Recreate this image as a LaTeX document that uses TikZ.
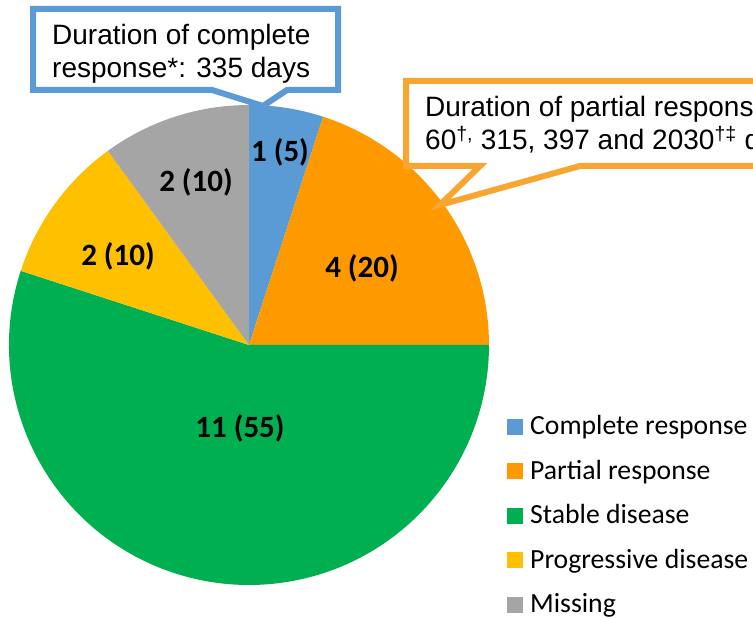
\documentclass[tikz,border=0pt]{standalone}
\usepackage{fontspec}
\setmainfont{Liberation Sans}
\newfontfamily\calibri{Carlito}
\definecolor{cblue}{HTML}{5B9BD5}
\definecolor{corange}{HTML}{FF9900}
\definecolor{cgreen}{HTML}{00B050}
\definecolor{cyellow}{HTML}{FFC000}
\definecolor{cgray}{HTML}{A5A5A5}
\definecolor{boxorange}{HTML}{F8A532}
\tikzset{
  slicelabel/.style={font=\calibri\bfseries\fontsize{31}{37}\selectfont, inner sep=0pt, anchor=center},
  legtext/.style={font=\calibri\fontsize{27.7}{33}\selectfont, inner sep=0pt, anchor=base west},
  legsq/.style={minimum size=16pt, inner sep=0pt, draw=none},
  calltext/.style={font=\fontsize{28}{33.6}\selectfont, inner sep=0pt, anchor=base west},
  callbox/.style={line width=6pt, line join=miter, fill=white}
}
\begin{document}
\begin{tikzpicture}[x=1pt,y=1pt]
\useasboundingbox (0,0) rectangle (753,618);
\clip (0,0) rectangle (753,618);
\fill[white] (0,0) rectangle (753,618);
\coordinate (c) at (249,273);
% pie
\fill[cblue]   (c) -- ++(72:240)  arc[start angle=72,  end angle=90,  radius=240] -- cycle;
\fill[corange] (c) -- ++(0:240)   arc[start angle=0,   end angle=72,  radius=240] -- cycle;
\fill[cgreen]  (c) -- ++(162:240) arc[start angle=162, end angle=360, radius=240] -- cycle;
\fill[cyellow] (c) -- ++(126:240) arc[start angle=126, end angle=162, radius=240] -- cycle;
\fill[cgray]   (c) -- ++(90:240)  arc[start angle=90,  end angle=126, radius=240] -- cycle;
% slice labels
\node[slicelabel] (lcr) at (280,466) {1 (5)};
\node[slicelabel] (lpr) at (362,350) {4 (20)};
\node[slicelabel] (lsd) at (240,190) {11 (55)};
\node[slicelabel] (lpd) at (118,362) {2 (10)};
\node[slicelabel] (lms) at (196,436) {2 (10)};
% callout complete response
\coordinate (bt) at (263,512);
\draw[callbox, draw=cblue] (33,609) -- (338,609) -- (338,528) -- (287,528) -- (bt) -- (212,528) -- (33,528) -- cycle;
\node[calltext] (ct1) at (52,573) {Duration of complete};
\node[calltext] (ct2) at (52,540) {response*: 335 days};
% callout partial response
\coordinate (ot) at (440,413);
\draw[callbox, draw=boxorange] (406,537) -- (800,537) -- (800,452) -- (580,452) -- (ot) -- (480,452) -- (406,452) -- cycle;
\node[calltext] (pt1) at (425,501) {Duration of partial response:};
\node[calltext] (pt2) at (425,468) {60\textsuperscript{†,} 315, 397 and 2030\textsuperscript{†‡} days};
% legend
\node[legsq, fill=cblue]   (s1) at (515,191) {};
\node[legsq, fill=corange] (s2) at (515,146.5) {};
\node[legsq, fill=cgreen]  (s3) at (515,102) {};
\node[legsq, fill=cyellow] (s4) at (515,57.5) {};
\node[legsq, fill=cgray]   (s5) at (515,13) {};
\node[legtext] (t1) at (530,183) {Complete response};
\node[legtext] (t2) at (530,138.5) {Partial response};
\node[legtext] (t3) at (530,94) {Stable disease};
\node[legtext] (t4) at (530,49.5) {Progressive disease};
\node[legtext] (t5) at (530,5) {Missing};
\end{tikzpicture}
\end{document}
